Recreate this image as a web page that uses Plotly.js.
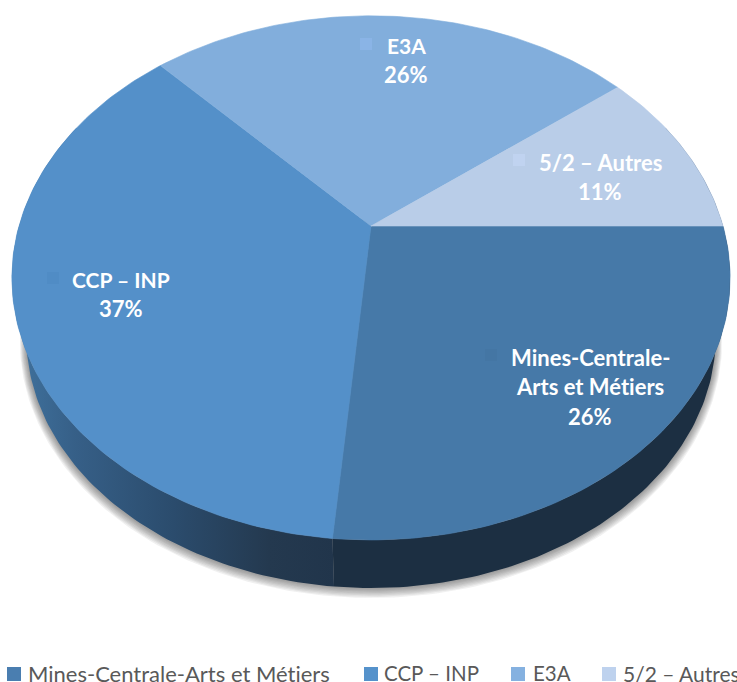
<!DOCTYPE html>
<html><head><meta charset="utf-8">
<script src="https://cdn.plot.ly/plotly-3.0.1.min.js"></script>
<style>html,body{margin:0;padding:0;background:#fff;overflow:hidden}#c{width:737px;height:682px}svg text{font-variant-ligatures:none !important;font-feature-settings:"liga" 0,"dlig" 0,"clig" 0,"calt" 0 !important}</style>
</head><body><div id="c"></div>
<script>
// Data
const categories = ['Mines-Centrale-Arts et Métiers', 'CCP – INP', 'E3A', '5/2 – Autres'];
const shares = [26.4, 36.6, 26.4, 10.6];
const labelLines = [['Mines-Centrale-', 'Arts et Métiers'], ['CCP – INP'], ['E3A'], ['5/2 – Autres']];
const colors = ['#4679a8', '#5490c9', '#82aedc', '#b9cde8'];
const keyColors = ['#4a7eb0', '#5592cb', '#85b1e0', '#bed2ee'];
const innerKeyColors = ['#4476a4', '#508cc5', '#8ab4e6', '#c0d3f0'];

// Chart geometry (perspective projection of the pie)
const cx = 371, cy = 226, R = 352, S = 251.8, k = 0.198;
const wallScale = 0.96, wallDrop = 60.6;
const project = (deg, f = 1, drop = 0, r = 1) => {
  const t = deg * Math.PI / 180, x = r * Math.cos(t), y = r * Math.sin(t), d = 1 - k * y;
  return [cx + f * R * x / d, cy + drop + f * S * y / d];
};
const arc = (a, b, f, drop) => {
  const pts = [], n = Math.max(2, Math.ceil(Math.abs(b - a)));
  for (let i = 0; i <= n; i++) pts.push(project(a + (b - a) * i / n, f, drop));
  return pts;
};
const poly = (pts, extra) => Object.assign({
  type: 'scatter', mode: 'lines', x: pts.map(p => p[0]), y: pts.map(p => p[1]),
  fill: 'toself', line: {width: 0}, hoverinfo: 'skip', showlegend: false
}, extra);

const total = shares.reduce((a, b) => a + b, 0);
let acc = 0;
const bounds = [0].concat(shares.map(v => (acc += v) / total * 360));

const traces = [];
// soft shadow beneath the pie
for (let i = 8; i >= 1; i--) {
  traces.push(poly(arc(-15, 200, wallScale + i * 0.0022, wallDrop + i * 0.55),
    {fillcolor: 'rgba(50,50,50,0.075)'}));
}
// side walls
const wall = (a, b) => arc(a, b, 1, 0).concat(arc(a, b, wallScale, wallDrop).reverse());
traces.push(poly(wall(bounds[1], 205), {
  fillgradient: {type: 'horizontal', colorscale: [[0, '#40739f'], [0.2, '#365f87'], [0.5, '#2b4c6d'], [0.8, '#24394f'], [1, '#21354b']]}
}));
traces.push(poly(wall(-25, bounds[1]), {fillcolor: '#1c2f42'}));
// top slices
shares.forEach((v, i) => {
  const pts = [[cx, cy]].concat(arc(bounds[i], bounds[i + 1], 1, 0)).concat([[cx, cy]]);
  traces.push(poly(pts, {fillcolor: colors[i], line: {width: 0.6, color: colors[i]}}));
});

// label anchors and legend layout
const labelX = [590, 121, 406, 600];
const labelY = [357, 279, 45, 162];
const labelSizes = [22, 21, 21, 22];
const percentSize = 22;
const lineStep = 29.5;
const innerKeyX = [491, 53, 366, 519];
const innerKeyY = [355, 278, 44, 160];
const legendKeyX = [14, 371, 518, 609];
const legendTextX = [27, 383, 532, 622];
const legendSizes = [22, 20.5, 20.5, 21];
const legendY = 674;

traces.push({type: 'scatter', mode: 'markers', x: innerKeyX, y: innerKeyY, hoverinfo: 'skip', showlegend: false,
  marker: {symbol: 'square', size: 12, color: innerKeyColors, line: {width: 0}}});
traces.push({type: 'scatter', mode: 'markers', x: legendKeyX, y: legendKeyX.map(() => legendY), hoverinfo: 'skip', showlegend: false,
  marker: {symbol: 'square', size: 14, color: keyColors, line: {width: 0}}});

const annotations = [];
const note = (x, y, text, anchor, size, color, bold) => annotations.push({
  x, y, xref: 'x', yref: 'y', text: bold ? '<b>' + text + '</b>' : text, showarrow: false,
  xanchor: anchor, yanchor: 'middle', borderpad: 0,
  font: {family: 'Lato, sans-serif', size, color}
});
categories.forEach((c, i) => {
  labelLines[i].forEach((t, j) => note(labelX[i], labelY[i] + j * lineStep, t, 'center', labelSizes[i], '#ffffff', true));
  note(labelX[i], labelY[i] + labelLines[i].length * lineStep, Math.round(shares[i] / total * 100) + '%', 'center', percentSize, '#ffffff', true);
  note(legendTextX[i], legendY - 1, c, 'left', legendSizes[i], '#595959', false);
});

Plotly.newPlot('c', traces, {
  width: 737, height: 682, margin: {l: 0, r: 0, t: 0, b: 0},
  paper_bgcolor: '#ffffff', plot_bgcolor: '#ffffff', showlegend: false,
  xaxis: {range: [0, 737], visible: false, fixedrange: true},
  yaxis: {range: [682, 0], visible: false, fixedrange: true},
  annotations
}, {displayModeBar: false, staticPlot: true});
</script></body></html>
